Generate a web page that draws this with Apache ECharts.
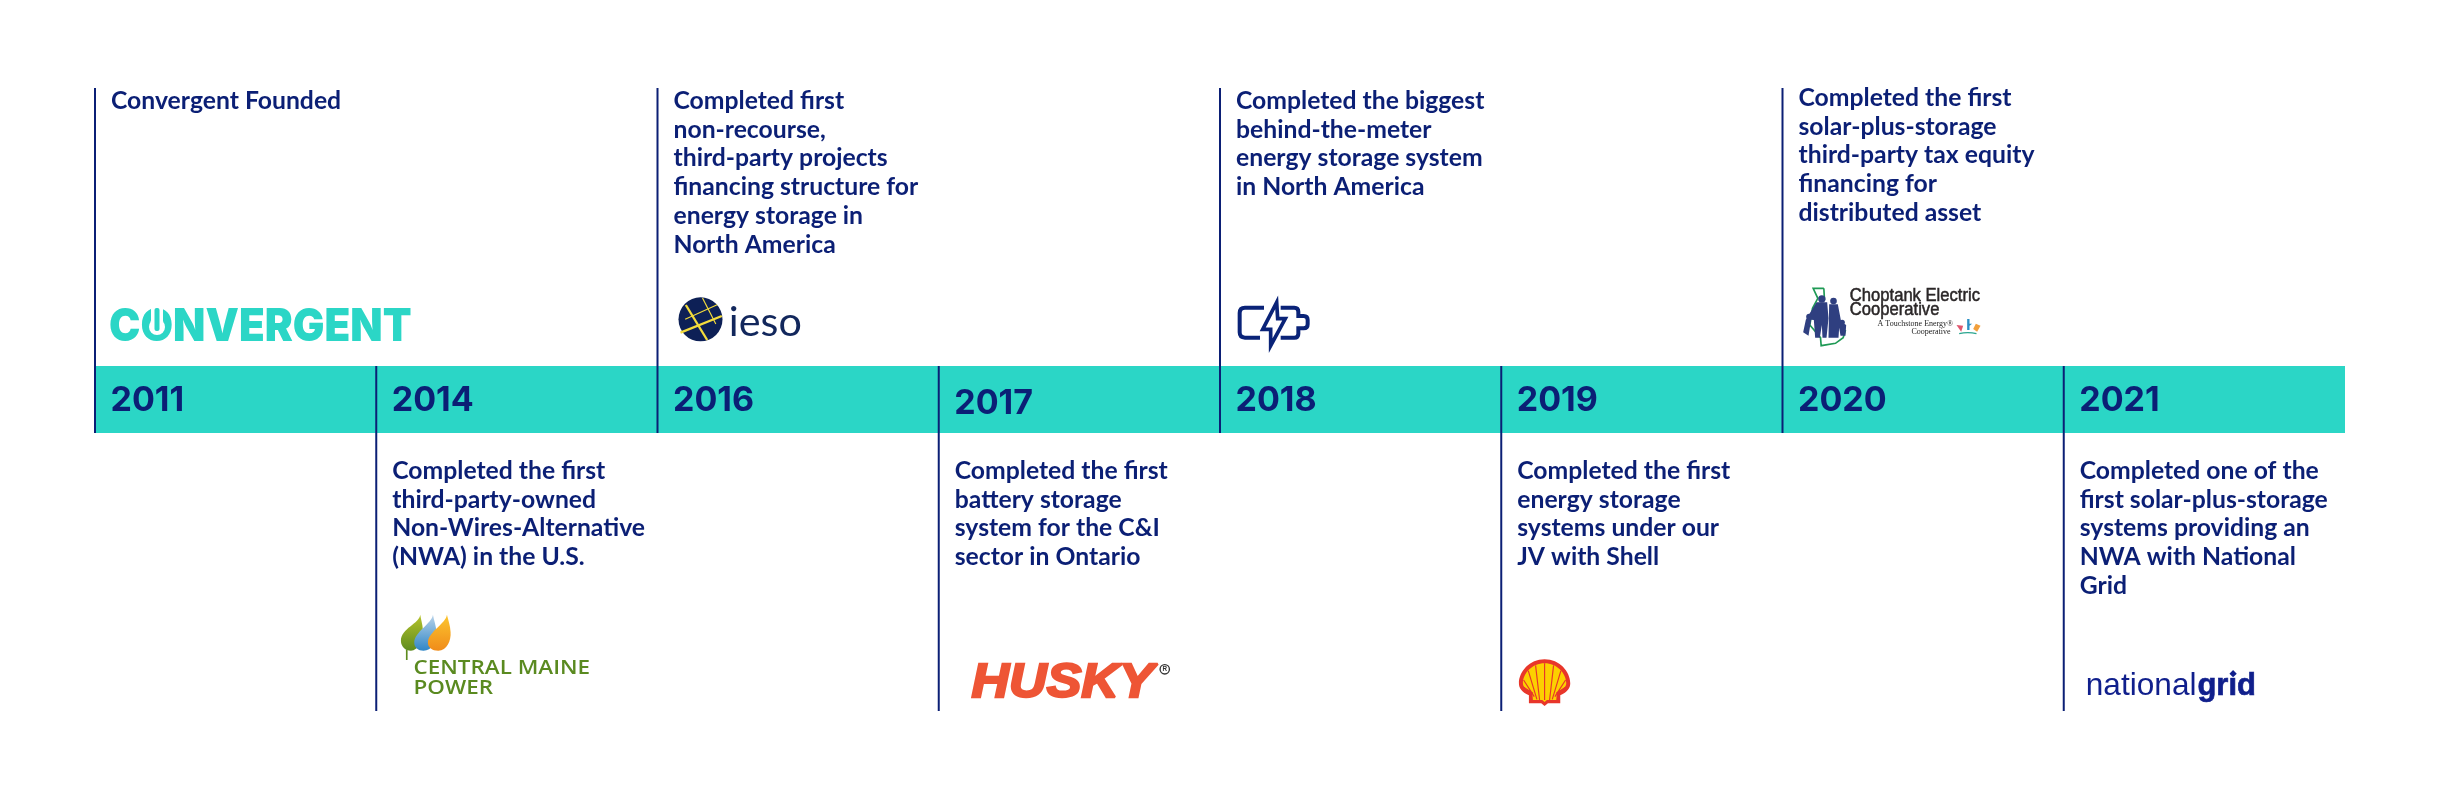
<!DOCTYPE html>
<html><head><meta charset="utf-8">
<style>html,body{margin:0;padding:0;background:#fff}#c{width:2440px;height:800px}</style>
<script src="https://cdn.jsdelivr.net/npm/echarts@6/dist/echarts.min.js"></script>
</head><body><div id="c"></div>
<script>
const years = ['2011','2014','2016','2017','2018','2019','2020','2021'];
const sides = ['up','down','up','down','up','down','up','down'];
const descriptions = [
  ['Convergent Founded'],
  ['Completed the first','third-party-owned','Non-Wires-Alternative','(NWA) in the U.S.'],
  ['Completed first','non-recourse,','third-party projects','financing structure for','energy storage in','North America'],
  ['Completed the first','battery storage','system for the C&I','sector in Ontario'],
  ['Completed the biggest','behind-the-meter','energy storage system','in North America'],
  ['Completed the first','energy storage','systems under our','JV with Shell'],
  ['Completed the first','solar-plus-storage','third-party tax equity','financing for','distributed asset'],
  ['Completed one of the','first solar-plus-storage','systems providing an','NWA with National','Grid']
];
const logos = ['convergent','cmp','ieso','husky','battery','shell','choptank','nationalgrid'];
const bandBase = [278,278,278,278,278,278,278,278];
const bandHeight = [67,67,67,67,67,67,67,67];
const spanUp = [278,623];
const spanDown = [0,345];
const yMax = 623;

const NAVY='#0b1f75', TEAL='#2bd6c6', FONT='Lato';
const txt=(x,y,text,size,weight,fill,family,extra)=>({type:'text',x,y,style:Object.assign({text,fontSize:size,fontWeight:weight,fontFamily:family||FONT,fill,textVerticalAlign:'middle'},extra||{})});
const path=(d,style)=>({type:'path',shape:{pathData:d},style});
const grad=(a,b)=>new echarts.graphic.LinearGradient(0,0,0,1,[{offset:0,color:a},{offset:1,color:b}]);

// logo artwork, drawn in local units with group scale 1/3
const logoArt = {
  convergent:{ox:14,oy:308,sc:1,kids:[
    Object.assign(txt(0,19,'CONVERGENT',45,900,TEAL,'Inter'),{scaleX:0.935}),
    {type:'circle',shape:{cx:48,cy:19,r:8},style:{fill:'#fff'}},
    {type:'rect',shape:{x:42,y:0,width:12,height:16},style:{fill:'#fff'}},
    {type:'rect',shape:{x:45.5,y:0,width:5,height:23,r:2},style:{fill:TEAL}}
  ]},
  ieso:{ox:3,oy:280,sc:1/3,kids:[
    {type:'circle',shape:{cx:120,cy:118,r:66},style:{fill:'#0d2056'}},
    {type:'line',shape:{x1:76,y1:75,x2:140,y2:180},style:{stroke:'#f4dc3c',lineWidth:7}},
    {type:'line',shape:{x1:60,y1:158,x2:184,y2:108},style:{stroke:'#f4dc3c',lineWidth:7}},
    {type:'line',shape:{x1:74,y1:118,x2:170,y2:74},style:{stroke:'#f4dc3c',lineWidth:3.5}},
    {type:'line',shape:{x1:126,y1:54,x2:166,y2:132},style:{stroke:'#f4dc3c',lineWidth:3.5}},
    txt(205,127,'ieso',124,400,'#12275c','Lato')
  ]},
  battery:{ox:5,oy:285,sc:1/3,kids:[
    path('M117 68 L60 68 Q44 68 44 84 L44 142 Q44 158 60 158 L105 158 M167 68 L208 68 Q220 68 220 80 L220 93 L236 93 Q248 93 248 105 L248 118 Q248 130 236 130 L220 130 L220 146 Q220 158 208 158 L167 158',{fill:'none',stroke:'#0a2378',lineWidth:12}),
    path('M155 52 L113 133 L137 133 L137 182 L181 101 L158 101 Z',{fill:'#fff',stroke:'#0a2378',lineWidth:11,lineJoin:'miter'})
  ]},
  choptank:{ox:8,oy:275,sc:1/3,kids:[
    path('M100 40 L68 40 L82 70 L66 100 L58 150 L90 188 L92 212 L135 205 L158 188 L165 165 M100 40 L102 75',{fill:'none',stroke:'#1f9a55',lineWidth:5}),
    {type:'circle',shape:{cx:94,cy:72,r:11},style:{fill:'#2f3f80'}},
    {type:'circle',shape:{cx:129,cy:78,r:10},style:{fill:'#2f3f80'}},
    {type:'circle',shape:{cx:56,cy:125,r:9},style:{fill:'#2f3f80'}},
    {type:'circle',shape:{cx:155,cy:142,r:8},style:{fill:'#2f3f80'}},
    path('M78 82 L110 82 L114 130 L108 188 L96 188 L94 150 L88 188 L74 188 L70 135 L62 134 L54 182 L38 172 L46 134 Z',{fill:'#2f3f80'}),
    path('M116 88 L142 88 L152 140 L167 150 L165 182 L150 182 L146 158 L144 188 L114 188 Z',{fill:'#2f3f80'}),
    Object.assign(txt(178,62,'Choptank Electric',53,400,'#2a2627','Liberation Sans',{stroke:'#2a2627',lineWidth:1.5}),{scaleX:0.94}),
    Object.assign(txt(178,104,'Cooperative',53,400,'#2a2627','Liberation Sans',{stroke:'#2a2627',lineWidth:1.5}),{scaleX:0.94}),
    txt(488,148,'A Touchstone Energy®',24,400,'#222','Liberation Serif',{textAlign:'right'}),
    txt(480,170,'Cooperative',24,400,'#222','Liberation Serif',{textAlign:'right'}),
    path('M498 150 L518 152 L512 170 Z',{fill:'#e0566e'}),
    path('M530 132 L537 132 L537 146 L545 146 L537 152 L537 165 L530 165 Z',{fill:'#2a8fc4'}),
    path('M548 162 L556 146 L570 152 L560 170 Z',{fill:'#f2a03d'}),
    path('M506 176 Q532 170 558 176',{fill:'none',stroke:'#2aa58f',lineWidth:4})
  ]},
  cmp:{ox:14,oy:600,sc:1/3,kids:[
    {type:'rect',shape:{x:47,y:148,width:5,height:32},style:{fill:'#5e8c1f'}},
    path('M90 44 C88 70 32 85 32 122 C32 140 46 152 62 152 C84 152 100 120 98 90 C97 72 92 58 90 44 Z',{fill:grad('#b6c32a','#5e8c1f')}),
    path('M128 44 C126 70 72 95 72 128 C72 142 84 152 100 152 C124 152 140 125 139 98 C138 78 131 60 128 44 Z',{fill:grad('#b9d3ea','#2f86c6')}),
    path('M170 44 C168 70 113 95 113 128 C113 142 126 152 144 152 C170 152 183 122 181 96 C180 76 174 60 170 44 Z',{fill:grad('#fcc62f','#f08c1a')}),
    Object.assign(txt(70,206,'CENTRAL MAINE',57,600,'#5a8a20','Open Sans'),{scaleX:1.18}),
    Object.assign(txt(70,266,'POWER',57,600,'#5a8a20','Open Sans'),{scaleX:1.18})
  ]},
  husky:{ox:21,oy:650,sc:1/3,kids:[
    Object.assign(txt(35,100,'HUSKY',146,700,'#ee5535','Liberation Sans',{fontStyle:'italic',stroke:'#ee5535',lineWidth:7}),{scaleX:1.07}),
    {type:'circle',shape:{cx:615,cy:58,r:14},style:{fill:'none',stroke:'#333',lineWidth:4}},
    txt(615,59,'R',19,700,'#333','Liberation Sans',{textAlign:'center'})
  ]},
  shell:{ox:5,oy:650,sc:1/3,kids:[
    path('M115 28 C70 28 38 65 38 100 C38 114 46 126 68 136 L68 160 L105 160 L115 168 L125 160 L162 160 L162 136 C184 126 192 114 192 100 C192 65 160 28 115 28 Z',{fill:'#e8362a'}),
    path('M115 40 C78 40 50 70 50 100 C50 110 58 118 78 126 L80 150 L108 150 L115 156 L122 150 L150 150 L152 126 C172 118 180 110 180 100 C180 70 152 40 115 40 Z',{fill:'#fcd000'}),
    path('M115 150 L115 40 M100 150 L88 46 M130 150 L142 46 M92 148 L66 62 M138 148 L164 62 M84 140 L52 90 M146 140 L178 90 M80 130 L52 112 M150 130 L178 112',{fill:'none',stroke:'#e8362a',lineWidth:3.5})
  ]},
  nationalgrid:{ox:7,oy:660,sc:1/3,kids:[
    Object.assign(txt(45,80,'national',93,400,'#101f8c','Liberation Sans'),{scaleX:1.02}),
    txt(380,80,'grid',93,700,'#101f8c','Liberation Sans',{stroke:'#101f8c',lineWidth:2}),
    {type:'rect',shape:{x:477,y:30,width:22,height:22},style:{fill:'#fff'}},
    path('M487 30 L498 41 L487 52 L476 41 Z',{fill:'#101f8c'})
  ]}
};

function renderColumn(params, api){
  const i=api.value(0), low=api.value(1), high=api.value(2);
  const colW=api.size([1,0])[0];
  const x=api.coord([i,0])[0]-colW/2;
  const yHigh=api.coord([i,high])[1], yLow=api.coord([i,low])[1];
  const gridTop=api.coord([i,yMax])[1];
  const children=[{type:'rect',shape:{x:x-1,y:yHigh,width:2,height:yLow-yHigh},style:{fill:NAVY}}];
  // year label, sits inside the band
  const yearY=gridTop+313+(years[i]==='2017'?3:0);
  children.push(txt(x+15.5,yearY,years[i],34,700,NAVY,'Inter'));
  // description block
  const up=sides[i]==='up';
  const first=gridTop+(up?(years[i]==='2020'?10:13):383);
  descriptions[i].forEach((line,k)=>children.push(Object.assign(txt(x+16,first+k*28.8,line,24,700,NAVY),{scaleX:1.03})));
  // logo
  const art=logoArt[logos[i]];
  children.push({type:'group',x:x+art.ox,y:gridTop+art.oy-88,scaleX:art.sc,scaleY:art.sc,children:art.kids});
  return {type:'group',children};
}

const chart=echarts.init(document.getElementById('c'));
chart.setOption({
  animation:false,
  backgroundColor:'#fff',
  grid:{left:95,right:95,top:88,bottom:89},
  xAxis:{type:'category',data:years,show:false,boundaryGap:true},
  yAxis:{type:'value',min:0,max:yMax,show:false},
  series:[
    {type:'bar',stack:'band',data:bandBase,barWidth:'100%',itemStyle:{color:'transparent'},silent:true},
    {type:'bar',stack:'band',data:bandHeight,barWidth:'100%',itemStyle:{color:TEAL},silent:true},
    {type:'custom',z:5,silent:true,clip:false,renderItem:renderColumn,encode:{x:0,y:[1,2]},
     data:years.map((y,i)=>{const s=sides[i]==='up'?spanUp:spanDown;return [i,s[0],s[1]];})}
  ]
});
</script></body></html>
